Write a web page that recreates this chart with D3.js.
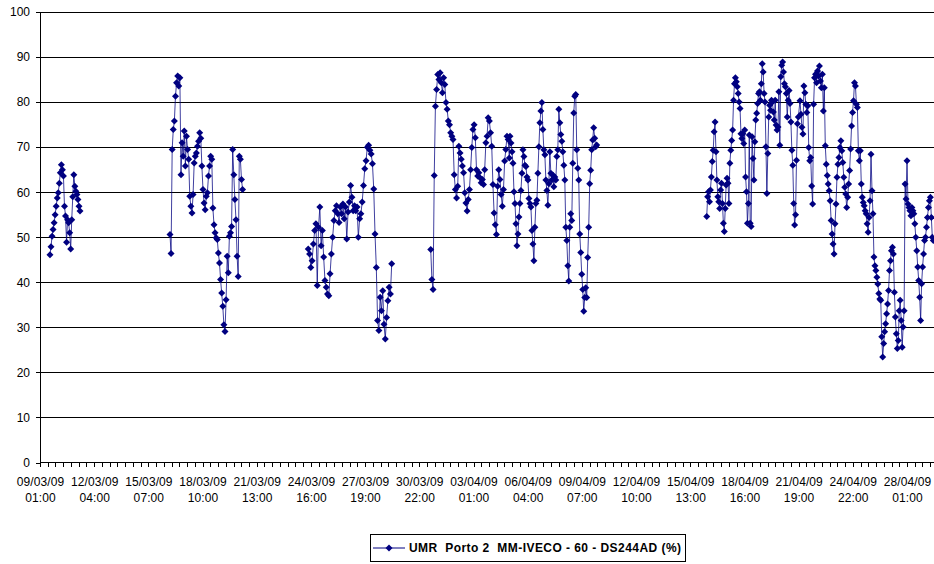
<!DOCTYPE html>
<html><head><meta charset="utf-8">
<script src="https://cdn.jsdelivr.net/npm/d3@7"></script>
<style>
html,body{margin:0;padding:0;background:#fff;}
svg{display:block;font-family:"Liberation Sans",Arial,sans-serif;}
</style></head><body>
<svg id="chart" width="934" height="564"></svg>
<script>
const seriesName = "UMR  Porto 2  MM-IVECO - 60 - DS244AD (%)";
const yTicks = [0,10,20,30,40,50,60,70,80,90,100];
const xTickLabels = ["09/03/09 01:00","12/03/09 04:00","15/03/09 07:00","18/03/09 10:00","21/03/09 13:00","24/03/09 16:00","27/03/09 19:00","30/03/09 22:00","03/04/09 01:00","06/04/09 04:00","09/04/09 07:00","12/04/09 10:00","15/04/09 13:00","18/04/09 16:00","21/04/09 19:00","24/04/09 22:00","28/04/09 01:00"];

// recording periods (start, end) and readings in each
const segStart = ["2009-03-09 14:48","2009-03-16 12:54","2009-03-24 12:18","2009-03-31 13:48","2009-04-05 03:30","2009-04-16 11:48","2009-04-21 20:54"];
const segEnd   = ["2009-03-11 08:24","2009-03-20 17:24","2009-03-29 07:48","2009-04-05 02:36","2009-04-10 03:30","2009-04-21 18:36","2009-04-29 13:24"];
const seg1 = [46.1,47.9,50.2,51.7,53.2,55,56.9,58.7,59.9,62,64.3,66.1,65,63.6,56.9,54.7,48.9,53.9,53.2,51,47.4,53.9,59,63.9,61.3,60.2,59.5,58.4,56.9,55.8];
const seg2 = [50.6,46.4,69.5,73.9,75.8,81.3,84.3,85.8,83.6,85.4,63.9,71,68,73.6,65.8,72.4,69.5,67.3,59.1,56.9,55.4,59.5,66.5,68,68.7,70.2,71.3,73.2,72,65.8,60.6,57.6,56.1,59.1,59.9,63.6,65.8,68,67.3,56.5,52.8,51,49.9,49.5,46.5,44.3,40.6,37.6,34.7,30.6,29.1,36.1,45.8,42.1,50.2,51,52.4,69.5,63.9,58.4,53.9,45.8,41.3,68,67.3,62.8,60.6];
const seg3 = [47.4,46.3,43.3,44.8,48.5,51.5,53,39.3,52.2,56.7,48.1,51.5,45.6,40.4,38.9,37.4,37,41.9,46.3,50,53.7,55.9,57,55.2,53.3,56.7,55.2,57.4,54.1,56.7,49.6,55.6,57.8,61.5,58.9,55.9,57,55.9,56.7,50,54.1,55.2,57.8,61.5,65.2,67,70,70.4,69.3,68.5,66.3,60.7,50.7,43.3,31.5,29.3,36.7,33.7,38.1,30.7,27.4,32.2,35.9,38.9,37.4,44.1];
const seg4 = [47.3,40.6,38.4,63.7,79.1,82.8,86.1,85,86.5,84.3,82.1,85.4,83.9,79.9,78.4,75.8,75,73.2,72.4,71.7,63.9,60.6,58.7,61.3,70.2,68.7,67.3,65.8,64.3,59.9,57.6,55.8,58.4,60.6,65,69.9,73.9,75,72.1,65,63.6,64.3,63.2,62.1,62.8,61.7,65,71,72.4,76.5,75.8,73.2,70.2,61.7,55.4,52.8,50.6,61.3,65,62.8,59.5,56.9,60.6,66.9,69.5,72.4,71.7,67.6];
const seg5 = [72.4,70.9,69,66.4,60.1,57.5,53,48.1,50.7,54.5,57.5,60.4,64.2,69.4,67.9,66,65.7,63.4,62.7,58.6,57.5,56.7,51.5,48.5,44.8,52.2,57.5,58.2,64.2,70.1,75.4,78,79.9,73.9,69.4,68.3,62.7,60.4,57.1,61.9,69,64.2,62.7,63.8,61.2,63.4,62.7,67.9,69.4,78.4,75.4,72.8,71.3,69,66,62.7,52.2,49.3,43.7,40.3,52.2,55.2,53.7,66.4,77.6,81.3,81.7,69.4,65.3,62.7,50.7,46.6,41.8,38.4,33.6,36.6,38.8,36.6,45.5,52.2,61.9,64.9,69.4,71.6,74.3,72,70.1,70.5];
const seg6 = [54.6,59,60.1,57.9,60.5,63.4,66.8,69.3,73.4,75.6,69,62.7,59,57.9,56.4,60.5,62,57.5,53.1,51.3,56.4,61.6,63.1,62,57.5,66.4,69.3,71.5,73.8,80.4,84.1,85.4,84.5,83.4,81.9,80,78.6,73,71.9,73,70.8,73.8,63.4,60.1,53.1,57.5,72.7,53.1,52.4,72.3,67.5,62.7,71.2,76,77.5,79.7,81.9,82.3,80.4,84.1,88.5,86.7,81.9,80,70.1,59.7,68.6,76.7,79.3,78.2,80.4,80,77.8,76,80.4,74.9,73.8,74.5,82.3,70.4,85.6,88.2,88.9,86.7,84.1,83.4,81.9,76.7,80.4,82.6,79.7,75.6,69.3,66,57.5,52.7,55,67.1,75.2,76.7];
const seg7 = [80.3,77.3,74.4,72.9,83.6,82.1,79.5,77.7,79.2,69.9,67,67.7,61.4,57.4,79.5,85.4,86.2,84.3,86.9,85.8,88,84.7,83.2,86.2,78,83.2,70.3,66.2,63.7,61.8,60.3,58.1,53.7,50.7,48.5,46.3,53,57.4,63.3,66.2,67.7,69.9,71.4,69.2,66.6,63.3,61.1,59.6,56.6,58.9,61.8,64.8,69.6,74.7,77.7,80.3,84.3,83.6,79.5,78.8,69.2,67,69.2,61.8,58.9,57.7,57,55.9,55.2,53,51.1,54.4,58.1,68.4,60.3,55.2,45.6,43.7,42.6,41.1,39.6,37.5,36.3,36,27.9,23.4,26.4,29,30.8,33,35.2,38.2,42.6,44.8,47,47.8,46.3,37.8,32.3,28.6,25.3,27.1,33.7,36,31.5,25.6,30.1,33.7,61.8,58.5,67,57.4,56.6,55.9,54.8,56.6,55.9,55.2,53,50,47,43.4,40.4,36.7,31.5,39.7,43.4,46.3,49.3,50,52.2,54.4,56.6,58.1,58.9,54.4,50,49.3];
const segValues = [seg1,seg2,seg3,seg4,seg5,seg6,seg7];

const parseSeg = d3.timeParse("%Y-%m-%d %H:%M");
const parseTick = d3.timeParse("%d/%m/%y %H:%M");
const fmtDate = d3.timeFormat("%d/%m/%y");
const fmtTime = d3.timeFormat("%H:%M");

// build points
const points = [];
segValues.forEach((vals, i) => {
  const t0 = +parseSeg(segStart[i]), t1 = +parseSeg(segEnd[i]);
  const n = vals.length;
  vals.forEach((v, j) => points.push({t: new Date(t0 + (t1 - t0) * j / (n - 1)), v}));
});
// split into runs where there is a long gap
const runs = [];
let cur = [];
points.forEach((p, i) => {
  if (i > 0 && (p.t - points[i-1].t) > 6 * 3600e3) { runs.push(cur); cur = []; }
  cur.push(p);
});
runs.push(cur);

const svg = d3.select("#chart");
const pL = 40, pR = 934, pT = 12, pB = 462.5;
const tickDates = xTickLabels.map(parseTick);
const x = d3.scaleTime().domain([tickDates[0], tickDates[tickDates.length-1]]).range([pL, 907]);
const y = d3.scaleLinear().domain([0, 100]).range([pB, pT]);
const FONT = "Liberation Sans, Arial, sans-serif";

// gridlines
const grid = svg.append("g").attr("transform", `translate(${pL},0)`)
  .call(d3.axisLeft(y).tickValues(yTicks.slice(1)).tickSize(-(pR-pL)).tickFormat(""));
grid.select(".domain").remove();
grid.selectAll("line").attr("stroke", "#000").attr("shape-rendering", "crispEdges");

// y axis
const yAxis = svg.append("g").attr("transform", `translate(${pL},0)`)
  .call(d3.axisLeft(y).tickValues(yTicks).tickSize(4).tickPadding(6).tickSizeOuter(0));
yAxis.select(".domain").attr("stroke", "#000").attr("shape-rendering", "crispEdges");
yAxis.selectAll("line").attr("stroke", "#000").attr("shape-rendering", "crispEdges");
yAxis.selectAll("text").attr("font-size", 12).attr("fill", "#000").attr("font-family", FONT);

// x axis: minor ticks
const step = 75 / 7 * 3600e3;
const minor = d3.range(0, 200).map(k => new Date(+tickDates[0] + k * step)).filter(d => x(d) <= pR);
const xMinor = svg.append("g").attr("transform", `translate(0,${pB})`)
  .call(d3.axisBottom(x).tickValues(minor).tickSize(4).tickFormat("").tickSizeOuter(0));
xMinor.select(".domain").remove();
xMinor.selectAll("line").attr("stroke", "#000").attr("shape-rendering", "crispEdges");
svg.append("line").attr("x1", pL).attr("x2", pR).attr("y1", pB).attr("y2", pB)
  .attr("stroke", "#000").attr("shape-rendering", "crispEdges");

// x axis labels
const xLab = svg.append("g").attr("transform", `translate(0,${pB})`)
  .call(d3.axisBottom(x).tickValues(tickDates).tickSize(0).tickPadding(15).tickFormat(""));
xLab.select(".domain").remove();
xLab.selectAll(".tick text").each(function(d) {
  const t = d3.select(this).attr("font-size", 12).attr("fill", "#000").attr("font-family", FONT)
    .attr("letter-spacing", "0.1px");
  t.append("tspan").attr("x", 0).text(fmtDate(d));
  t.append("tspan").attr("x", 0).attr("dy", "1.3em").text(fmtTime(d));
});

// series
const color = "#000080";
const line = d3.line().x(d => x(d.t)).y(d => y(d.v));
svg.append("g").selectAll("path").data(runs).join("path")
  .attr("d", line).attr("fill", "none").attr("stroke", color).attr("stroke-width", 1).attr("stroke-opacity", 0.75);
const diamond = { draw(ctx, size) { const r = Math.sqrt(size) / 2; ctx.moveTo(0, -r); ctx.lineTo(r, 0); ctx.lineTo(0, r); ctx.lineTo(-r, 0); ctx.closePath(); } };
const sym = d3.symbol().type(diamond).size(49);
svg.append("g").selectAll("path").data(points).join("path")
  .attr("transform", d => `translate(${x(d.t)},${y(d.v)})`).attr("d", sym).attr("fill", color);

// legend
const lg = svg.append("g");
lg.append("rect").attr("x", 370.5).attr("y", 534.5).attr("width", 315).attr("height", 27)
  .attr("fill", "#fff").attr("stroke", "#000");
lg.append("line").attr("x1", 373).attr("x2", 405).attr("y1", 548).attr("y2", 548).attr("stroke", color);
lg.append("path").attr("transform", "translate(389,548)").attr("d", sym).attr("fill", color);
lg.append("text").attr("x", 409).attr("y", 548).attr("dy", "0.35em").attr("font-size", 12)
  .attr("font-family", FONT).attr("letter-spacing", "0.45px")
  .attr("font-weight", "bold").style("white-space", "pre").text(seriesName);
</script>
</body></html>
